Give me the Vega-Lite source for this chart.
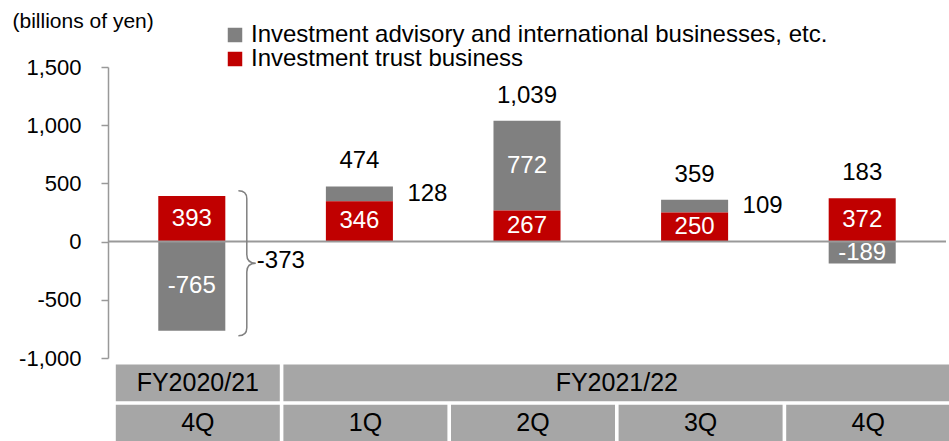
{
  "$schema": "https://vega.github.io/schema/vega-lite/v6.json",
  "padding": {"left": 12, "top": 10, "right": 0, "bottom": 0},
  "config": {
    "font": "Liberation Sans",
    "view": {"stroke": null},
    "locale": {"number": {"decimal": ".", "thousands": ",", "grouping": [3], "currency": ["$", ""], "minus": "-"}},
    "axisY": {
      "titleAngle": 0, "titleAlign": "left", "titleBaseline": "middle",
      "titleX": -96, "titleY": -45.5, "titleFontSize": 21, "titleFontWeight": "normal", "titleColor": "#000000",
      "grid": false,
      "domainColor": "#999999", "domainWidth": 1.5, "tickColor": "#999999", "tickWidth": 1.5, "tickSize": 7,
      "labelFontSize": 22, "labelColor": "#000000", "labelPadding": 20
    },
    "legend": {
      "orient": "none", "legendX": 115, "legendY": -44, "symbolType": "square", "symbolSize": 210,
      "labelFontSize": 24, "labelOffset": 4, "rowPadding": 0, "symbolStrokeWidth": 0, "padding": 0,
      "labelColor": "#000000", "labelLimit": 800
    }
  },
  "datasets": {
    "segments": [
      {"period": "FY2020/21 4Q", "segment": "Investment advisory and international businesses, etc.", "value": -765.4},
      {"period": "FY2020/21 4Q", "segment": "Investment trust business", "value": 392.6},
      {"period": "FY2021/22 1Q", "segment": "Investment advisory and international businesses, etc.", "value": 128},
      {"period": "FY2021/22 1Q", "segment": "Investment trust business", "value": 346},
      {"period": "FY2021/22 2Q", "segment": "Investment advisory and international businesses, etc.", "value": 772},
      {"period": "FY2021/22 2Q", "segment": "Investment trust business", "value": 267},
      {"period": "FY2021/22 3Q", "segment": "Investment advisory and international businesses, etc.", "value": 109},
      {"period": "FY2021/22 3Q", "segment": "Investment trust business", "value": 250},
      {"period": "FY2021/22 4Q", "segment": "Investment advisory and international businesses, etc.", "value": -189},
      {"period": "FY2021/22 4Q", "segment": "Investment trust business", "value": 372}
    ],
    "quarters": [
      {"period": "FY2020/21 4Q", "fy": "FY2020/21", "q": "4Q"},
      {"period": "FY2021/22 1Q", "fy": "FY2021/22", "q": "1Q"},
      {"period": "FY2021/22 2Q", "fy": "FY2021/22", "q": "2Q"},
      {"period": "FY2021/22 3Q", "fy": "FY2021/22", "q": "3Q"},
      {"period": "FY2021/22 4Q", "fy": "FY2021/22", "q": "4Q"}
    ]
  },
  "bounds": "flush",
  "spacing": 6.5,
  "vconcat": [
    {
      "width": 838,
      "height": 291,
      "data": {"name": "segments"},
      "layer": [
        {
          "mark": {"type": "bar"},
          "encoding": {
            "x": {"field": "period", "type": "nominal", "scale": {"domain": ["FY2020/21 4Q", "FY2021/22 1Q", "FY2021/22 2Q", "FY2021/22 3Q", "FY2021/22 4Q"], "paddingInner": 0.6, "paddingOuter": 0.3}, "axis": null},
            "y": {
              "field": "value", "type": "quantitative", "stack": "zero",
              "scale": {"domain": [-1000, 1500], "nice": false, "zero": false},
              "title": "(billions of yen)",
              "axis": {"values": [-1000, -500, 0, 500, 1000, 1500], "labelExpr": "format(datum.value, ',')"}
            },
            "color": {
              "field": "segment", "type": "nominal", "title": null,
              "scale": {"domain": ["Investment advisory and international businesses, etc.", "Investment trust business"], "range": ["#808080", "#C00000"]}
            },
            "order": {"field": "segment", "sort": "descending"}
          }
        },
        {
          "data": {"values": [{"baseline": 0}]},
          "mark": {"type": "rule", "color": "#999999", "strokeWidth": 2},
          "encoding": {"y": {"field": "baseline", "type": "quantitative", "title": "(billions of yen)"}}
        },
        {
          "transform": [
            {"stack": "value", "groupby": ["period"], "sort": [{"field": "segment", "order": "descending"}], "as": ["v0", "v1"]},
            {"filter": "abs(datum.value) >= 150"},
            {"fold": ["v0", "v1"], "as": ["edge", "pos"]},
            {"aggregate": [{"op": "mean", "field": "pos", "as": "mid"}], "groupby": ["period", "segment", "value"]}
          ],
          "mark": {"type": "text", "color": "#FFFFFF", "fontSize": 24, "baseline": "middle"},
          "encoding": {
            "x": {"field": "period", "type": "nominal"},
            "y": {"field": "mid", "type": "quantitative", "title": "(billions of yen)"},
            "text": {"field": "value", "type": "quantitative", "format": ",.0f"}
          }
        },
        {
          "transform": [
            {"stack": "value", "groupby": ["period"], "sort": [{"field": "segment", "order": "descending"}], "as": ["v0", "v1"]},
            {"filter": "abs(datum.value) < 150"},
            {"fold": ["v0", "v1"], "as": ["edge", "pos"]},
            {"aggregate": [{"op": "mean", "field": "pos", "as": "mid"}], "groupby": ["period", "segment", "value"]}
          ],
          "mark": {"type": "text", "color": "#000000", "fontSize": 24, "baseline": "middle", "dx": 68},
          "encoding": {
            "x": {"field": "period", "type": "nominal"},
            "y": {"field": "mid", "type": "quantitative", "title": "(billions of yen)"},
            "text": {"field": "value", "type": "quantitative", "format": ",.0f"}
          }
        },
        {
          "transform": [
            {"joinaggregate": [{"op": "sum", "field": "value", "as": "total"}], "groupby": ["period"]},
            {"filter": "datum.value > 0"},
            {"aggregate": [{"op": "sum", "field": "value", "as": "top"}], "groupby": ["period", "total"]},
            {"filter": "datum.total > 0"}
          ],
          "mark": {"type": "text", "color": "#000000", "fontSize": 24, "baseline": "middle", "dy": -25},
          "encoding": {
            "x": {"field": "period", "type": "nominal"},
            "y": {"field": "top", "type": "quantitative", "title": "(billions of yen)"},
            "text": {"field": "total", "type": "quantitative", "format": ",.0f"}
          }
        },
        {
          "transform": [
            {"aggregate": [{"op": "sum", "field": "value", "as": "total"}, {"op": "mean", "field": "value", "as": "center"}], "groupby": ["period"]},
            {"filter": "datum.total < 0"}
          ],
          "layer": [
            {
              "mark": {
                "type": "point",
                "shape": "M -0.116 -1 C -0.05 -1 0 -0.98 0 -0.89 L 0 -0.12 C 0 -0.03 0.05 0 0.124 0 C 0.05 0 0 0.03 0 0.12 L 0 0.89 C 0 0.98 -0.05 1 -0.116 1",
                "filled": false, "color": "#808080", "stroke": "#808080", "strokeWidth": 1.5, "size": 21025, "xOffset": 55, "opacity": 1
              },
              "encoding": {
                "x": {"field": "period", "type": "nominal"},
                "y": {"field": "center", "type": "quantitative", "title": "(billions of yen)"}
              }
            },
            {
              "mark": {"type": "text", "color": "#000000", "fontSize": 24, "baseline": "middle", "align": "left", "dx": 65, "dy": -2},
              "encoding": {
                "x": {"field": "period", "type": "nominal"},
                "y": {"field": "center", "type": "quantitative", "title": "(billions of yen)"},
                "text": {"field": "total", "type": "quantitative", "format": ",.0f"}
              }
            }
          ]
        }
      ]
    },
    {
      "width": 838,
      "height": 77,
      "data": {"name": "quarters"},
      "transform": [{"window": [{"op": "row_number", "as": "idx"}]}],
      "layer": [
        {
          "transform": [{"aggregate": [{"op": "min", "field": "idx", "as": "first"}, {"op": "max", "field": "idx", "as": "last"}], "groupby": ["fy"]}],
          "layer": [
            {
              "mark": {"type": "rect", "color": "#A6A6A6", "xOffset": -76, "x2Offset": 88},
              "encoding": {
                "x": {"field": "first", "type": "quantitative", "scale": {"domain": [0.5, 5.5], "nice": false, "zero": false}, "axis": null},
                "x2": {"field": "last"},
                "y": {"datum": "FY", "type": "nominal", "scale": {"domain": ["FY", "Q"], "paddingInner": 0.0825, "paddingOuter": 0}, "axis": null}
              }
            },
            {
              "transform": [{"fold": ["first", "last"], "as": ["k", "v"]}, {"aggregate": [{"op": "mean", "field": "v", "as": "c"}], "groupby": ["fy"]}],
              "mark": {"type": "text", "color": "#000000", "fontSize": 25, "dx": 6, "baseline": "middle"},
              "encoding": {
                "x": {"field": "c", "type": "quantitative"},
                "y": {"datum": "FY", "type": "nominal"},
                "text": {"field": "fy", "type": "nominal"}
              }
            }
          ]
        },
        {
          "mark": {"type": "rect", "color": "#A6A6A6", "xOffset": -76, "x2Offset": 88},
          "encoding": {
            "x": {"field": "idx", "type": "quantitative"},
            "x2": {"field": "idx"},
            "y": {"datum": "Q", "type": "nominal"}
          }
        },
        {
          "mark": {"type": "text", "color": "#000000", "fontSize": 25, "dx": 6, "baseline": "middle"},
          "encoding": {
            "x": {"field": "idx", "type": "quantitative"},
            "y": {"datum": "Q", "type": "nominal"},
            "text": {"field": "q", "type": "nominal"}
          }
        }
      ]
    }
  ]
}
